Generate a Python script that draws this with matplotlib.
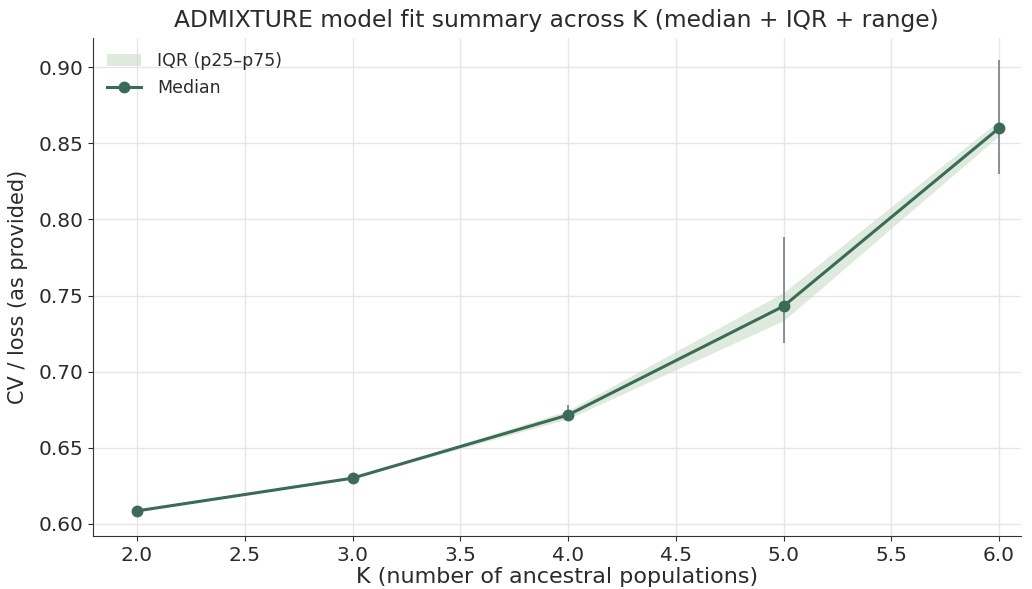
import numpy as np
import matplotlib
matplotlib.use("Agg")
import matplotlib.pyplot as plt

K = [2.0, 3.0, 4.0, 5.0, 6.0]
median = [0.6085, 0.6300, 0.6715, 0.7430, 0.8600]
p25 = [0.6083, 0.6298, 0.6690, 0.7335, 0.8550]
p75 = [0.6087, 0.6302, 0.6745, 0.7520, 0.8650]
vmin = [0.6083, 0.6298, 0.6680, 0.7185, 0.8300]
vmax = [0.6087, 0.6302, 0.6780, 0.7885, 0.9045]

line_col = "#3b6b57"
text_col = "#2b2b2b"

fig, ax = plt.subplots(figsize=(10.32, 5.89), dpi=100)

ax.vlines(K, vmin, vmax, color="#6e7483", linewidth=1.1, zorder=2)
ax.fill_between(K, p25, p75, color="#c9dcc9", alpha=0.6, linewidth=0,
                label="IQR (p25\u2013p75)", zorder=1)
ax.plot(K, median, color=line_col, linewidth=2.2, marker="o", markersize=7.5,
        label="Median", zorder=3)

ax.set_xlim(1.795, 6.1)
ax.set_ylim(0.592, 0.919)
ax.set_xticks([2.0, 2.5, 3.0, 3.5, 4.0, 4.5, 5.0, 5.5, 6.0])
ax.set_yticks([0.60, 0.65, 0.70, 0.75, 0.80, 0.85, 0.90])
ax.xaxis.set_major_formatter(plt.FormatStrFormatter("%.1f"))
ax.yaxis.set_major_formatter(plt.FormatStrFormatter("%.2f"))

ax.grid(True, color="#e6e6e6", linewidth=1.0)
ax.set_axisbelow(True)
for s in ["top", "right"]:
    ax.spines[s].set_visible(False)
for s in ["left", "bottom"]:
    ax.spines[s].set_color("#333333")

ax.tick_params(labelsize=14.5, colors=text_col)
ax.set_xlabel("K (number of ancestral populations)", fontsize=16, color=text_col, labelpad=2)
ax.set_ylabel("CV / loss (as provided)", fontsize=15, color=text_col, labelpad=7)
ax.set_title("ADMIXTURE model fit summary across K (median + IQR + range)",
             fontsize=16.8, color=text_col, pad=8)

leg = ax.legend(loc="upper left", frameon=False, fontsize=12.5,
                borderaxespad=0.4, handletextpad=0.9)
for t in leg.get_texts():
    t.set_color(text_col)

fig.subplots_adjust(left=0.09, right=0.989, top=0.935, bottom=0.09)
fig.savefig("out.png", dpi=100)
